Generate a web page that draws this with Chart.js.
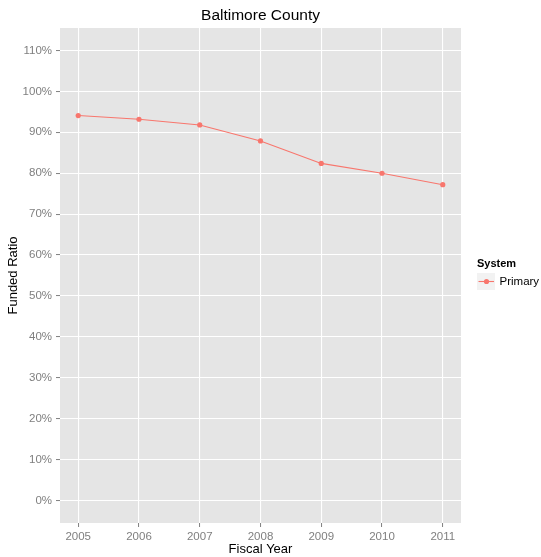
<!DOCTYPE html>
<html>
<head>
<meta charset="utf-8">
<script src="https://cdn.jsdelivr.net/npm/chart.js@4/dist/chart.umd.min.js"></script>
<style>
  html, body { margin: 0; padding: 0; background: #ffffff; }
  #wrap { width: 541px; height: 557px; }
</style>
</head>
<body>
<div id="wrap"><canvas id="c" width="541" height="557"></canvas></div>
<script>
const chartTitle = 'Baltimore County';
const xTitle = 'Fiscal Year';
const yTitle = 'Funded Ratio';
const legendTitle = 'System';
const seriesName = 'Primary';
const years = [2005, 2006, 2007, 2008, 2009, 2010, 2011];
const primaryValues = [94.1, 93.2, 91.8, 87.9, 82.4, 80.0, 77.2];
const yTickValues = [0, 10, 20, 30, 40, 50, 60, 70, 80, 90, 100, 110];
const xTickValues = [2005, 2006, 2007, 2008, 2009, 2010, 2011];

const FONT = '"Liberation Sans", Arial, Helvetica, sans-serif';
const LINE_COLOR = '#F8766D';

const panelBg = {
  id: 'panelBg',
  beforeDraw(chart) {
    const { ctx, chartArea: a } = chart;
    ctx.save();
    ctx.fillStyle = '#E5E5E5';
    ctx.fillRect(a.left, a.top, a.right - a.left, a.bottom - a.top);
    ctx.restore();
  }
};

const decorations = {
  id: 'decorations',
  afterDraw(chart) {
    const { ctx, chartArea: a } = chart;
    ctx.save();
    // title
    ctx.fillStyle = '#000000';
    ctx.font = '15.5px ' + FONT;
    ctx.textAlign = 'center';
    ctx.textBaseline = 'middle';
    ctx.fillText(chartTitle, (a.left + a.right) / 2, 16);
    // legend
    ctx.textAlign = 'left';
    ctx.font = 'bold 11px ' + FONT;
    ctx.fillText(legendTitle, 477, 263.5);
    ctx.fillStyle = '#F2F2F2';
    ctx.fillRect(477, 273, 18, 17);
    ctx.strokeStyle = LINE_COLOR;
    ctx.lineWidth = 1.1;
    ctx.beginPath();
    ctx.moveTo(478.5, 281.5);
    ctx.lineTo(494, 281.5);
    ctx.stroke();
    ctx.fillStyle = LINE_COLOR;
    ctx.beginPath();
    ctx.arc(486.5, 281.5, 2.6, 0, Math.PI * 2);
    ctx.fill();
    ctx.fillStyle = '#000000';
    ctx.font = '11.5px ' + FONT;
    ctx.fillText(seriesName, 499.5, 282);
    ctx.restore();
  }
};

new Chart(document.getElementById('c'), {
  type: 'line',
  data: {
    datasets: [{
      label: seriesName,
      data: years.map((y, i) => ({ x: y, y: primaryValues[i] })),
      borderColor: LINE_COLOR,
      backgroundColor: LINE_COLOR,
      borderWidth: 1.1,
      pointRadius: 2.6,
      pointBorderWidth: 0,
      pointBackgroundColor: LINE_COLOR,
      tension: 0,
      fill: false
    }]
  },
  options: {
    responsive: false,
    animation: false,
    devicePixelRatio: 1,
    layout: { padding: { top: 28, right: 80, left: 0, bottom: 0 } },
    plugins: {
      legend: { display: false },
      title: { display: false },
      tooltip: { enabled: false }
    },
    scales: {
      x: {
        type: 'linear',
        min: 2004.7,
        max: 2011.3,
        afterFit(s) { s.height = 34; },
        afterBuildTicks(s) { s.ticks = xTickValues.map(v => ({ value: v })); },
        grid: { color: '#FFFFFF', lineWidth: 1.1, tickColor: '#7F7F7F', tickLength: 4, drawTicks: true, tickWidth: 1 },
        border: { display: false },
        ticks: {
          color: '#7F7F7F',
          font: { family: FONT, size: 11.5 },
          padding: 3,
          maxRotation: 0,
          autoSkip: false,
          callback: v => String(v)
        },
        title: {
          display: true,
          text: xTitle,
          color: '#000000',
          font: { family: FONT, size: 13 },
          padding: { top: 0, bottom: 0 }
        }
      },
      y: {
        type: 'linear',
        min: -5.5,
        max: 115.5,
        afterFit(s) { s.width = 60; },
        afterBuildTicks(s) { s.ticks = yTickValues.map(v => ({ value: v })); },
        grid: { color: '#FFFFFF', lineWidth: 1.1, tickColor: '#7F7F7F', tickLength: 4, drawTicks: true, tickWidth: 1 },
        border: { display: false },
        ticks: {
          color: '#7F7F7F',
          font: { family: FONT, size: 11.5 },
          padding: 4,
          autoSkip: false,
          callback: v => v + '%'
        },
        title: {
          display: true,
          text: yTitle,
          color: '#000000',
          font: { family: FONT, size: 13 },
          padding: { top: 6, bottom: 0 }
        }
      }
    }
  },
  plugins: [panelBg, decorations]
});
</script>
</body>
</html>
